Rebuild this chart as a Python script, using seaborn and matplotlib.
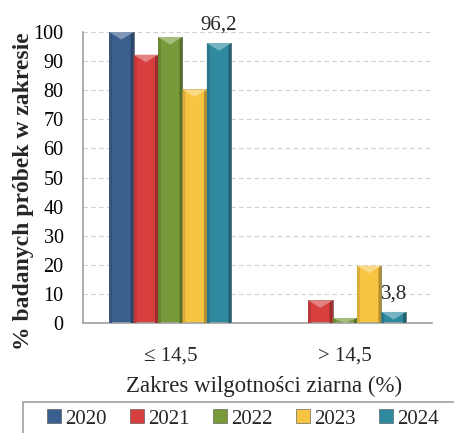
import matplotlib
matplotlib.use("Agg")
import matplotlib.pyplot as plt
import matplotlib.patches as mpatches
import numpy as np
import pandas as pd
import seaborn as sns

# Data: share of tested samples per moisture range, by year
ranges = ["≤ 14,5", "> 14,5"]
years = ["2020", "2021", "2022", "2023", "2024"]
v2020 = [100.0, 0.0]
v2021 = [92.2, 7.8]
v2022 = [98.3, 1.7]
v2023 = [80.3, 19.7]
v2024 = [96.2, 3.8]
colors = ["#3b5f8f", "#d63f3e", "#789a3a", "#f7c542", "#2f8aa0"]

series = [v2020, v2021, v2022, v2023, v2024]
df = pd.DataFrame({
    "zakres": [r for _ in years for r in ranges],
    "rok": [y for y in years for _ in ranges],
    "procent": [v for s in series for v in s],
})

sns.set_theme(style="white")
plt.rcParams["font.family"] = ["Liberation Serif", "DejaVu Serif"]

W, H = 454, 433
fig = plt.figure(figsize=(W / 100, H / 100), dpi=100)
ax = fig.add_axes([83 / W, 1 - 323 / H, (432 - 83) / W, (323 - 32) / H])

sns.barplot(data=df, x="zakres", y="procent", hue="rok", palette=colors,
            width=0.7, ax=ax, legend=False, saturation=1,
            edgecolor="#4a4a4a", linewidth=0.4)


def bevel(patch, axis):
    """Shade a bar with light top facet and darker side facets."""
    x0, y0 = patch.get_x(), patch.get_y()
    w, h = patch.get_width(), patch.get_height()
    if h <= 0:
        return
    fc = np.array(patch.get_facecolor()[:3])
    light = tuple(np.clip(fc + (1 - fc) * 0.35, 0, 1))
    dark_l = tuple(fc * 0.88)
    dark_r = tuple(fc * 0.72)
    sw = w * 0.12
    bev = min(2.6, h)
    axis.add_patch(mpatches.Polygon([[x0, y0], [x0 + sw, y0], [x0 + sw, y0 + h - bev * 0.3],
                                     [x0, y0 + h]], closed=True, facecolor=dark_l,
                                    edgecolor="none", zorder=3))
    axis.add_patch(mpatches.Polygon([[x0 + w, y0], [x0 + w - sw, y0], [x0 + w - sw, y0 + h - bev * 0.3],
                                     [x0 + w, y0 + h]], closed=True, facecolor=dark_r,
                                    edgecolor="none", zorder=3))
    axis.add_patch(mpatches.Polygon([[x0, y0 + h], [x0 + w, y0 + h], [x0 + w / 2, y0 + h - bev]],
                                    closed=True, facecolor=light, edgecolor="none", zorder=3))


for p in list(ax.patches):
    bevel(p, ax)

ax.set_ylim(0, 100)
ax.set_xlim(-0.5, 1.5)
ax.set_yticks(range(0, 101, 10))
ax.yaxis.grid(True, color="#cfcfcf", linestyle=(0, (4, 3)), linewidth=0.8)
ax.set_axisbelow(True)

for side in ["top", "right"]:
    ax.spines[side].set_visible(False)
for side in ["left", "bottom"]:
    ax.spines[side].set_color("#a0a0a0")
    ax.spines[side].set_linewidth(1.2)

ax.tick_params(axis="y", length=5, width=1.2, color="#a0a0a0", labelsize=14.5, pad=9,
               labelcolor="black")
ax.tick_params(axis="x", which="major", length=0, labelsize=15, pad=17)
ax.set_xticks([-0.5, 0.5, 1.5], minor=True)
ax.tick_params(axis="x", which="minor", length=5, color="#a0a0a0", width=1.2)

ax.set_xlabel("Zakres wilgotności ziarna (%)", fontsize=16.5)
ax.xaxis.set_label_coords(0.52, -0.183)
ax.set_ylabel("% badanych próbek w zakresie", fontsize=17, fontweight="bold")
ax.yaxis.set_label_coords(-0.14, 0.454)

# Value labels on the 2024 series
bars_2024 = ax.containers[4]
for bar, val in zip(bars_2024, v2024):
    ax.annotate(f"{val:.1f}".replace(".", ","), (bar.get_x() + bar.get_width() / 2, val),
                xytext=(0, 10), textcoords="offset points", ha="center", va="baseline",
                fontsize=15, annotation_clip=False)

# Legend at the bottom
handles = [mpatches.Patch(facecolor=c, edgecolor="#4a4a4a", linewidth=0.4) for c in colors]
fig.legend(handles, years, loc="center left", bbox_to_anchor=(47 / W, 1 - 419 / H),
           ncol=5, frameon=False, fontsize=15, handlelength=0.67, handleheight=0.67,
           handletextpad=0.2, columnspacing=1.12, borderpad=0, borderaxespad=0)
fig.patches.append(mpatches.Rectangle((23 / W, -0.05), 1.0, 1 - 402 / H + 0.05,
                                      transform=fig.transFigure, fill=False,
                                      edgecolor="#a0a0a0", linewidth=1.2))

fig.savefig("out.png", dpi=100)
